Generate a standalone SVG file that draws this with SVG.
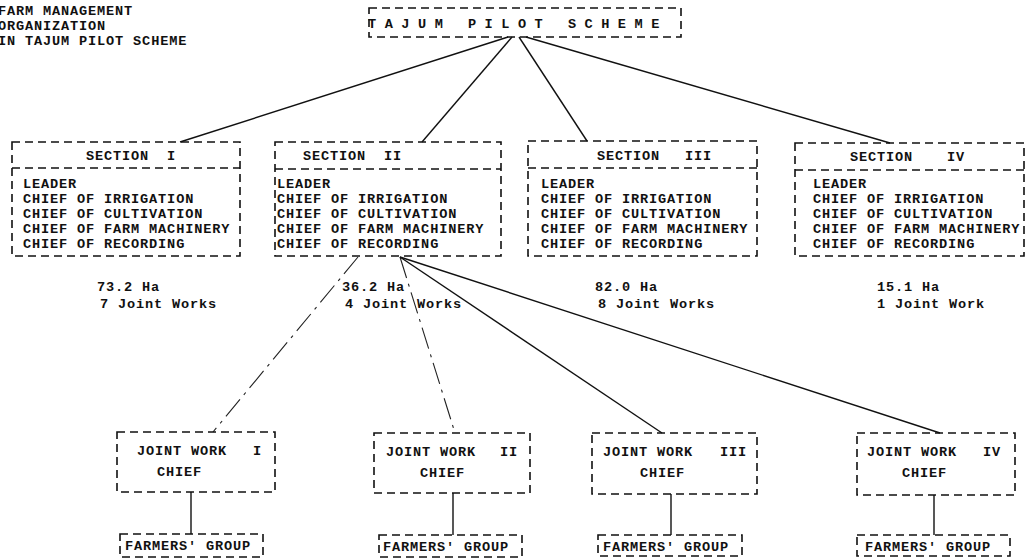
<svg xmlns="http://www.w3.org/2000/svg" width="1027" height="559" viewBox="0 0 1027 559">
<style>
  text { font-family: "Liberation Mono", "DejaVu Sans Mono", monospace; font-size: 13.6px; letter-spacing: 0.85px; font-weight: bold; fill: #111; }
  .box { fill: none; stroke: #111; stroke-width: 1.6; stroke-dasharray: 8 5; }
  .div { fill: none; stroke: #111; stroke-width: 1.6; stroke-dasharray: 8 5; }
  .ln { stroke: #111; stroke-width: 1.4; fill: none; }
  .faint { stroke: #222; stroke-width: 1.1; fill: none; stroke-dasharray: 22 6 3 6; }
  text.sp { letter-spacing: 8.5px; }
</style>
<rect width="1027" height="559" fill="#fff"/>

<g id="title">
  <text x="-2" y="15">FARM MANAGEMENT</text>
  <text x="-2" y="30">ORGANIZATION</text>
  <text x="-2" y="45">IN TAJUM PILOT SCHEME</text>
</g>

<g id="connectors">
  <line class="ln" x1="508" y1="37" x2="180" y2="142"/>
  <line class="ln" x1="512" y1="37" x2="422" y2="142"/>
  <line class="ln" x1="519" y1="37" x2="587" y2="141"/>
  <line class="ln" x1="526" y1="37" x2="890" y2="143"/>
  <line class="faint" x1="358" y1="257" x2="213" y2="432"/>
  <line class="faint" x1="400" y1="257" x2="455" y2="433"/>
  <line class="ln" x1="400" y1="257" x2="662" y2="433"/>
  <line class="ln" x1="400" y1="257" x2="940" y2="433"/>
  <line class="ln" x1="191" y1="492" x2="191" y2="534"/>
  <line class="ln" x1="453" y1="493" x2="453" y2="535"/>
  <line class="ln" x1="671" y1="494" x2="671" y2="535"/>
  <line class="ln" x1="934" y1="495" x2="934" y2="535"/>
</g>

<g id="scheme">
  <rect class="box" x="369" y="8" width="312" height="29"/>
  <text class="sp" x="368" y="28">TAJUM PILOT SCHEME</text>
</g>

<g id="section1">
  <rect class="box" x="12" y="142" width="228" height="114"/>
  <line class="div" x1="12" y1="168" x2="240" y2="168"/>
  <text y="160"><tspan x="86">SECTION</tspan><tspan x="167">I</tspan></text>
  <text x="23" y="188">LEADER</text>
  <text x="23" y="203">CHIEF OF IRRIGATION</text>
  <text x="23" y="218">CHIEF OF CULTIVATION</text>
  <text x="23" y="233">CHIEF OF FARM MACHINERY</text>
  <text x="23" y="248">CHIEF OF RECORDING</text>
  <text x="97" y="291">73.2 Ha</text>
  <text x="100" y="308">7 Joint Works</text>
</g>

<g id="section2">
  <rect class="box" x="275" y="142" width="226" height="114"/>
  <line class="div" x1="275" y1="169" x2="501" y2="169"/>
  <text y="160"><tspan x="303">SECTION</tspan><tspan x="384">II</tspan></text>
  <text x="277" y="188">LEADER</text>
  <text x="277" y="203">CHIEF OF IRRIGATION</text>
  <text x="277" y="218">CHIEF OF CULTIVATION</text>
  <text x="277" y="233">CHIEF OF FARM MACHINERY</text>
  <text x="277" y="248">CHIEF OF RECORDING</text>
  <text x="342" y="291">36.2 Ha</text>
  <text x="345" y="308">4 Joint Works</text>
</g>

<g id="section3">
  <rect class="box" x="528" y="141" width="229" height="115"/>
  <line class="div" x1="528" y1="168" x2="757" y2="168"/>
  <text y="160"><tspan x="597">SECTION</tspan><tspan x="685">III</tspan></text>
  <text x="541" y="188">LEADER</text>
  <text x="541" y="203">CHIEF OF IRRIGATION</text>
  <text x="541" y="218">CHIEF OF CULTIVATION</text>
  <text x="541" y="233">CHIEF OF FARM MACHINERY</text>
  <text x="541" y="248">CHIEF OF RECORDING</text>
  <text x="595" y="291">82.0 Ha</text>
  <text x="598" y="308">8 Joint Works</text>
</g>

<g id="section4">
  <rect class="box" x="795" y="143" width="229" height="113"/>
  <line class="div" x1="795" y1="170" x2="1024" y2="170"/>
  <text y="161"><tspan x="850">SECTION</tspan><tspan x="947">IV</tspan></text>
  <text x="813" y="188">LEADER</text>
  <text x="813" y="203">CHIEF OF IRRIGATION</text>
  <text x="813" y="218">CHIEF OF CULTIVATION</text>
  <text x="813" y="233">CHIEF OF FARM MACHINERY</text>
  <text x="813" y="248">CHIEF OF RECORDING</text>
  <text x="877" y="291">15.1 Ha</text>
  <text x="877" y="308">1 Joint Work</text>
</g>

<g id="jw1">
  <rect class="box" x="117" y="432" width="158" height="60"/>
  <text y="455"><tspan x="137">JOINT WORK</tspan><tspan x="253">I</tspan></text>
  <text x="157" y="476">CHIEF</text>
</g>
<g id="fg1">
  <rect class="box" x="120" y="534" width="143" height="23"/>
  <text x="125" y="550">FARMERS' GROUP</text>
</g>

<g id="jw2">
  <rect class="box" x="374" y="433" width="156" height="60"/>
  <text y="456"><tspan x="386">JOINT WORK</tspan><tspan x="500">II</tspan></text>
  <text x="420" y="477">CHIEF</text>
</g>
<g id="fg2">
  <rect class="box" x="379" y="535" width="143" height="22"/>
  <text x="383" y="551">FARMERS' GROUP</text>
</g>

<g id="jw3">
  <rect class="box" x="592" y="433" width="165" height="61"/>
  <text y="456"><tspan x="603">JOINT WORK</tspan><tspan x="720">III</tspan></text>
  <text x="640" y="477">CHIEF</text>
</g>
<g id="fg3">
  <rect class="box" x="598" y="535" width="144" height="21"/>
  <text x="603" y="551">FARMERS' GROUP</text>
</g>

<g id="jw4">
  <rect class="box" x="857" y="433" width="158" height="62"/>
  <text y="456"><tspan x="867">JOINT WORK</tspan><tspan x="983">IV</tspan></text>
  <text x="902" y="477">CHIEF</text>
</g>
<g id="fg4">
  <rect class="box" x="857" y="535" width="153" height="21"/>
  <text x="865" y="551">FARMERS' GROUP</text>
</g>
</svg>
